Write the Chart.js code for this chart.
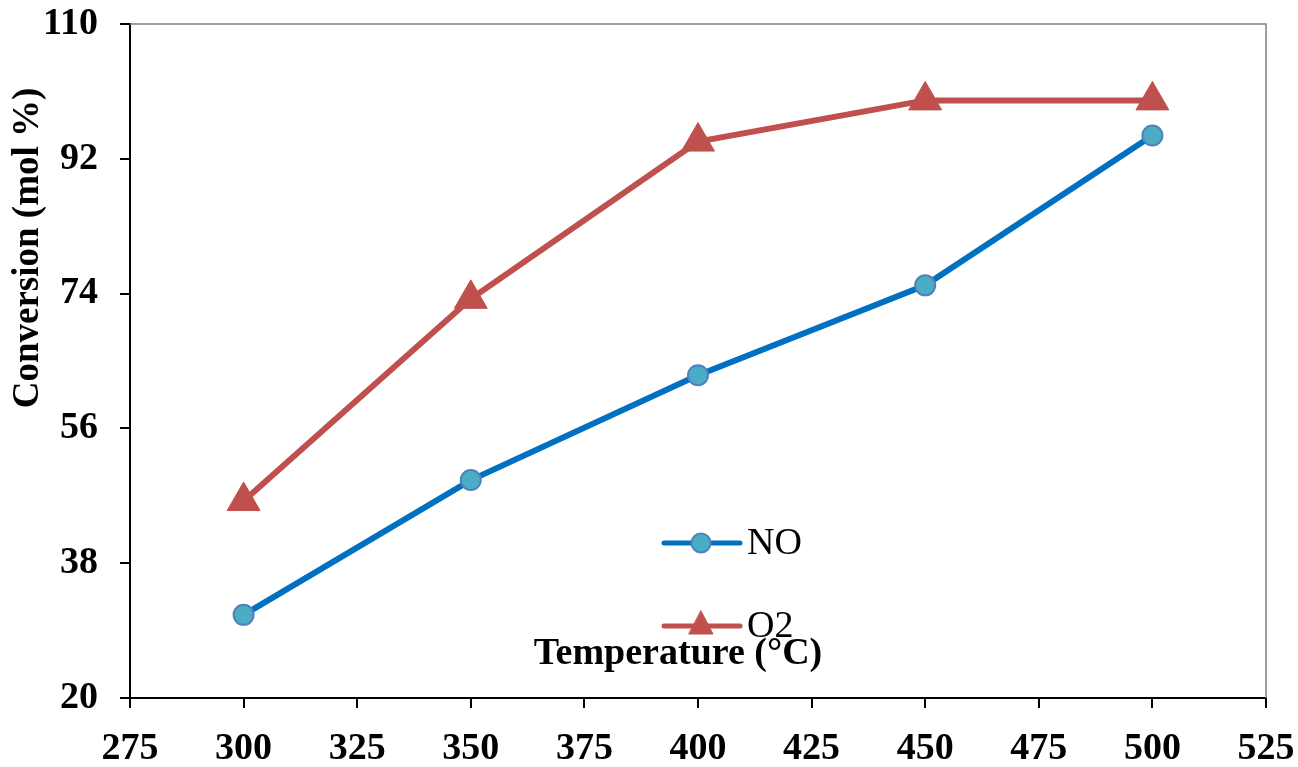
<!DOCTYPE html>
<html>
<head>
<meta charset="utf-8">
<script src="https://cdn.jsdelivr.net/npm/chart.js@4"></script>
<style>
  html, body { margin: 0; padding: 0; background: #fff; }
</style>
</head>
<body>
<canvas id="myChart" width="1298" height="767"></canvas>
<script>
const temperatures = [300, 350, 400, 450, 500];
const noValues = [31.1, 49.1, 63.1, 75.1, 95.1];
const o2Values = [46.3, 73.3, 94.3, 99.8, 99.8];
const seriesNames = ['NO', 'O2'];
const xTitle = 'Temperature (°C)';
const yTitle = 'Conversion (mol %)';

const serif = "'Liberation Serif', 'Times New Roman', serif";

// frame, axis titles and the legend sit inside the plot in the original
const extras = {
  id: 'extras',
  afterDraw(chart) {
    const ctx = chart.ctx;
    const a = chart.chartArea;
    ctx.save();
    ctx.strokeStyle = '#808080';
    ctx.lineWidth = 1.5;
    ctx.beginPath();
    ctx.moveTo(a.left, a.top);
    ctx.lineTo(a.right, a.top);
    ctx.lineTo(a.right, a.bottom);
    ctx.stroke();

    ctx.fillStyle = '#000';
    ctx.font = 'bold 38px ' + serif;
    ctx.textAlign = 'center';
    ctx.textBaseline = 'middle';
    ctx.fillText(xTitle, 678, 654);

    ctx.save();
    ctx.translate(28, 248);
    ctx.rotate(-Math.PI / 2);
    ctx.font = 'bold 37px ' + serif;
    ctx.fillText(yTitle, 0, 0);
    ctx.restore();

    // legend: line with marker in the middle
    const rows = [543, 626];
    chart.data.datasets.forEach(function (ds, i) {
      const y = rows[i];
      ctx.strokeStyle = ds.borderColor;
      ctx.lineWidth = 5;
      ctx.lineCap = 'round';
      ctx.beginPath();
      ctx.moveTo(664, y);
      ctx.lineTo(740, y);
      ctx.stroke();
      ctx.fillStyle = ds.pointBackgroundColor;
      ctx.strokeStyle = ds.pointBorderColor;
      ctx.lineWidth = ds.pointBorderWidth;
      ctx.beginPath();
      if (i === 0) {
        ctx.arc(701, y, 9.5, 0, Math.PI * 2);
      } else {
        ctx.moveTo(701, y - 15);
        ctx.lineTo(713, y + 8);
        ctx.lineTo(689, y + 8);
        ctx.closePath();
      }
      ctx.fill();
      ctx.stroke();
      ctx.fillStyle = '#000';
      ctx.font = '38px ' + serif;
      ctx.textAlign = 'left';
      ctx.fillText(ds.label, 747, y + 1);
    });
    ctx.restore();
  }
};

function noOverflow(s) {
  s.paddingTop = 0;
  s.paddingBottom = 0;
  s.paddingLeft = 0;
  s.paddingRight = 0;
}

const ctx = document.getElementById('myChart').getContext('2d');
const myChart = new Chart(ctx, {
  type: 'line',
  data: {
    datasets: [{
      label: seriesNames[0],
      data: temperatures.map(function (t, i) { return { x: t, y: noValues[i] }; }),
      borderColor: '#0070C0',
      borderWidth: 6,
      pointStyle: 'circle',
      pointRadius: 10,
      pointHoverRadius: 10,
      pointBackgroundColor: '#4BACC6',
      pointBorderColor: '#4F81BD',
      pointBorderWidth: 2
    }, {
      label: seriesNames[1],
      data: temperatures.map(function (t, i) { return { x: t, y: o2Values[i] }; }),
      borderColor: '#C0504D',
      borderWidth: 6,
      pointStyle: 'triangle',
      pointRadius: 19,
      pointHoverRadius: 19,
      pointBackgroundColor: '#C0504D',
      pointBorderColor: '#C0504D',
      pointBorderWidth: 1
    }]
  },
  options: {
    responsive: false,
    animation: false,
    devicePixelRatio: 1,
    layout: { padding: { left: 0, right: 32, top: 24, bottom: 0 } },
    plugins: { legend: { display: false }, tooltip: { enabled: false } },
    scales: {
      x: {
        type: 'linear',
        min: 275,
        max: 525,
        afterFit: function (s) { s.height = 69; noOverflow(s); },
        ticks: {
          stepSize: 25,
          color: '#000',
          padding: 18,
          font: { family: serif, size: 38, weight: 'bold' }
        },
        grid: { drawOnChartArea: false, drawTicks: true, tickLength: 10, color: '#000', lineWidth: 2 },
        border: { display: true, color: '#000', width: 2 }
      },
      y: {
        min: 20,
        max: 110,
        afterFit: function (s) { s.width = 130; noOverflow(s); },
        ticks: {
          stepSize: 18,
          color: '#000',
          padding: 22,
          font: { family: serif, size: 38, weight: 'bold' }
        },
        grid: { drawOnChartArea: false, drawTicks: true, tickLength: 10, color: '#000', lineWidth: 2 },
        border: { display: true, color: '#000', width: 2 }
      }
    }
  },
  plugins: [extras]
});
</script>
</body>
</html>
